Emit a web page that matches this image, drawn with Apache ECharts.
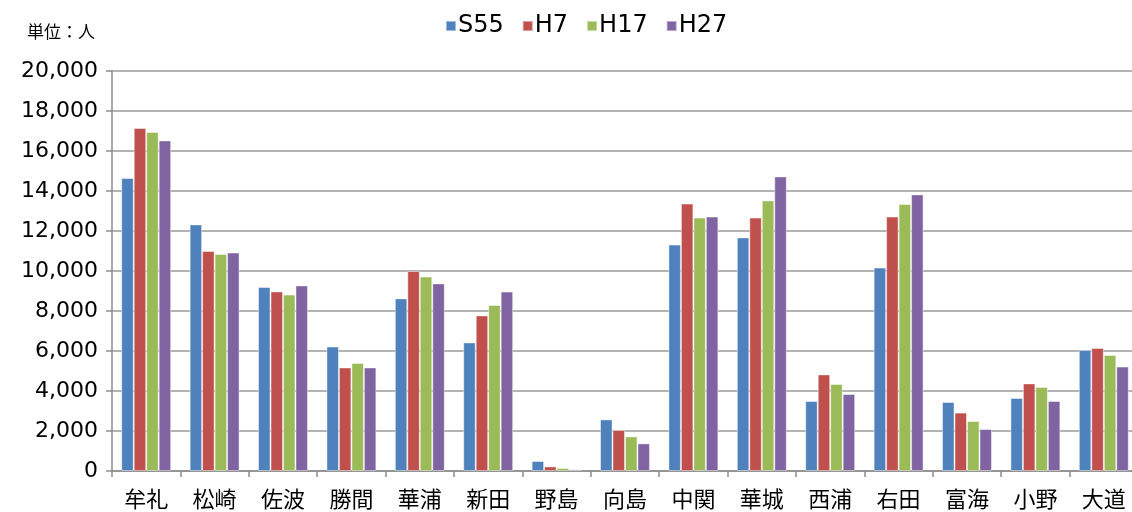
<!DOCTYPE html>
<html>
<head>
<meta charset="utf-8">
<script src="https://cdn.jsdelivr.net/npm/echarts@6/dist/echarts.min.js"></script>
<style>
  html, body { margin: 0; padding: 0; background: #fff; }
  #chart { width: 1132px; height: 512px; }
</style>
</head>
<body>
<div id="chart"></div>
<script>
// 地区
var areas = ['牟礼', '松崎', '佐波', '勝間', '華浦', '新田', '野島', '向島', '中関', '華城', '西浦', '右田', '富海', '小野', '大道'];

// 人口(人)
var s55 = [14650, 12330, 9200, 6220, 8630, 6430, 500, 2580, 11320, 11680, 3500, 10170, 3450, 3650, 6050];
var h7  = [17150, 11000, 8980, 5180, 10000, 7780, 230, 2050, 13370, 12670, 4830, 12720, 2920, 4380, 6150];
var h17 = [16950, 10850, 8820, 5400, 9720, 8300, 150, 1730, 12670, 13530, 4350, 13350, 2500, 4200, 5800];
var h27 = [16530, 10920, 9280, 5180, 9380, 8970, 80, 1380, 12720, 14730, 3850, 13830, 2100, 3500, 5220];

var seriesNames = ['S55', 'H7', 'H17', 'H27'];
var colors = ['#4F81BD', '#C0504D', '#9BBB59', '#8064A2'];

var chartDom = document.getElementById('chart');
var chart = echarts.init(chartDom);

function bar(name, data, color) {
    return {
        name: name,
        type: 'bar',
        data: data,
        barGap: '0%',
        barCategoryGap: '27%',
        itemStyle: {
            color: color,
            borderColor: 'rgba(255,255,255,0.45)',
            borderWidth: 1
        }
    };
}

var option = {
    animation: false,
    color: colors,
    title: {
        text: '単位：人',
        left: 22,
        top: 18,
        textStyle: {
            fontFamily: 'Noto Sans CJK JP',
            fontSize: 17,
            fontWeight: 'normal',
            color: '#000'
        }
    },
    legend: {
        data: seriesNames,
        top: 9,
        left: 440,
        itemWidth: 10,
        itemHeight: 10,
        itemGap: 18,
        icon: 'rect',
        textStyle: {
            fontFamily: 'DejaVu Sans',
            fontSize: 24,
            color: '#000',
            padding: [0, 0, 0, -3]
        }
    },
    grid: {
        left: 112,
        right: -6,
        top: 71,
        bottom: 41,
        outerBoundsMode: 'none'
    },
    xAxis: {
        type: 'category',
        data: areas,
        axisLine: { lineStyle: { color: '#8c8c8c', width: 1.5 } },
        axisTick: { show: true, length: 6, lineStyle: { color: '#8c8c8c', width: 1.5 } },
        axisLabel: {
            interval: 0,
            margin: 17,
            fontFamily: 'Noto Sans CJK JP',
            fontSize: 22,
            color: '#000'
        }
    },
    yAxis: {
        type: 'value',
        min: 0,
        max: 20000,
        interval: 2000,
        axisLine: { show: true, lineStyle: { color: '#8c8c8c', width: 1.5 } },
        axisTick: { show: true, length: 6, lineStyle: { color: '#8c8c8c', width: 1.5 } },
        splitLine: { lineStyle: { color: '#9a9a9a', width: 1.5 } },
        axisLabel: {
            margin: 14,
            fontFamily: 'DejaVu Sans',
            fontSize: 22,
            color: '#000',
            formatter: function (v) { return v.toLocaleString('en-US'); }
        }
    },
    series: [
        bar(seriesNames[0], s55, colors[0]),
        bar(seriesNames[1], h7, colors[1]),
        bar(seriesNames[2], h17, colors[2]),
        bar(seriesNames[3], h27, colors[3])
    ]
};

chart.setOption(option);
</script>
</body>
</html>
